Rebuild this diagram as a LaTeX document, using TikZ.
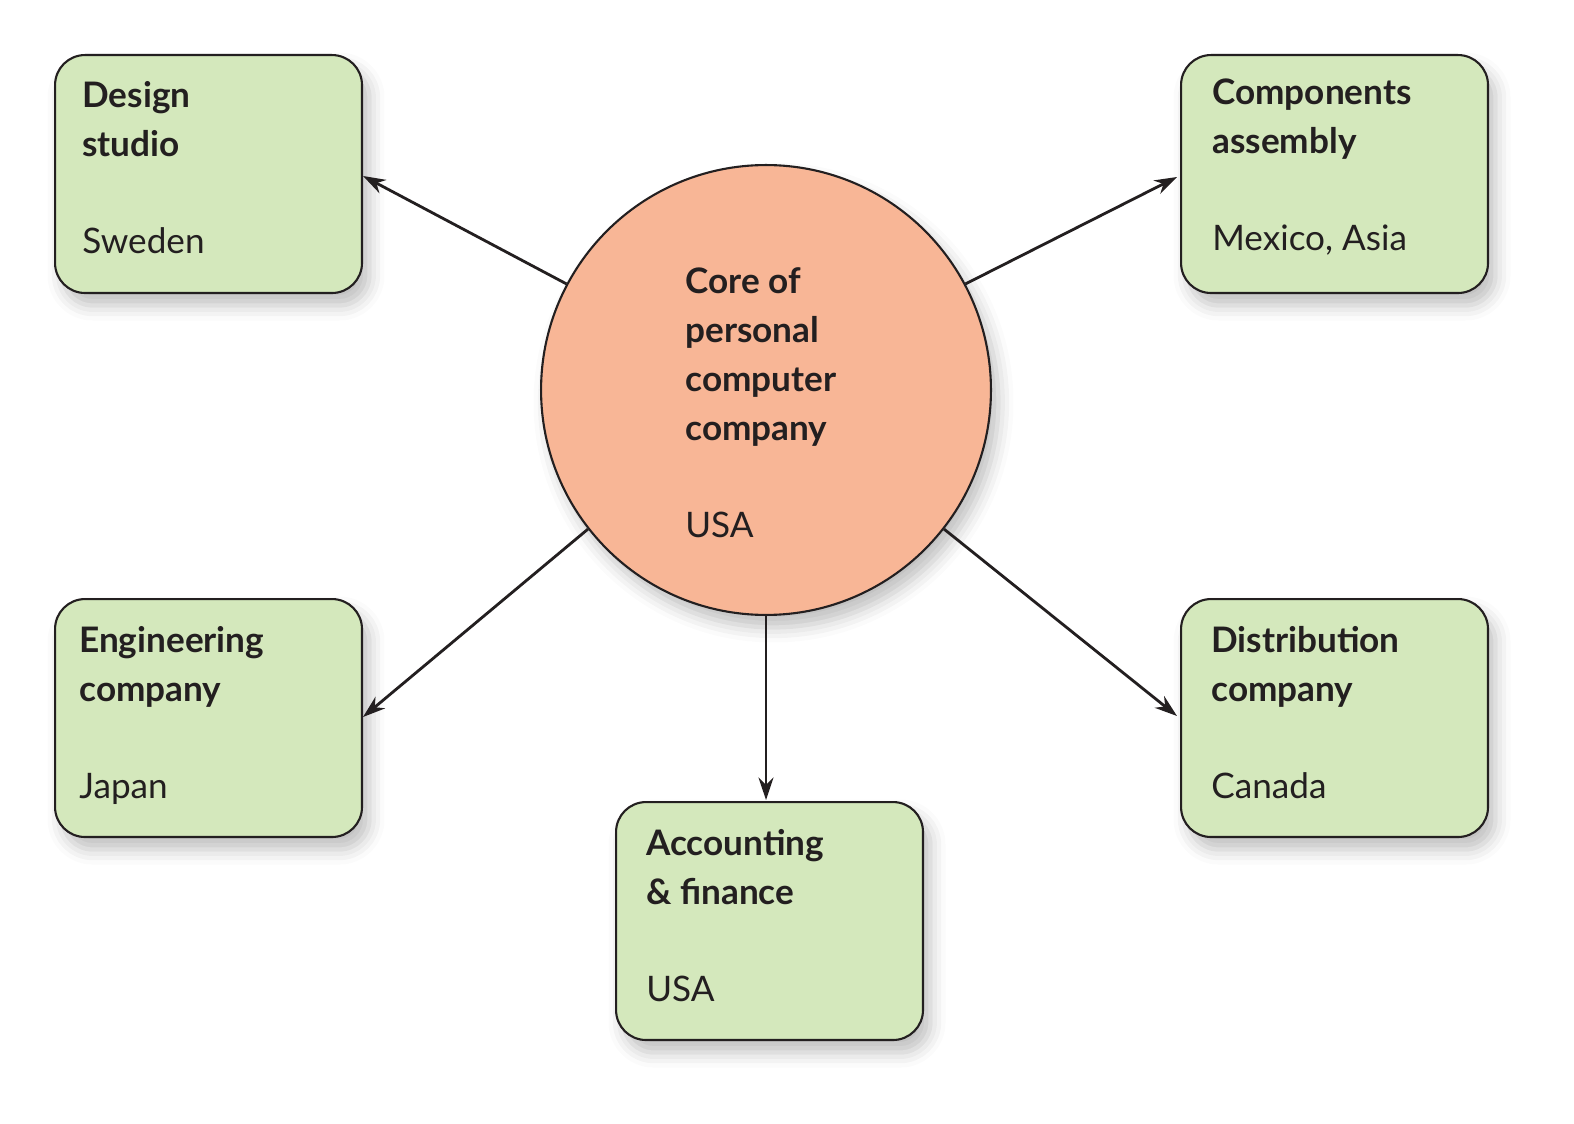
\documentclass[tikz,border=0pt]{standalone}
\usepackage{fontspec}
\setmainfont{Lato}
\usetikzlibrary{shadows.blur,arrows.meta}
\definecolor{boxgreen}{RGB}{212,232,188}
\definecolor{coresalmon}{RGB}{248,182,150}
\definecolor{ink}{RGB}{35,31,32}
\tikzset{
 unit/.style={draw=ink,line width=1.2pt,fill=boxgreen,rounded corners=0.6cm,minimum width=6.14cm,minimum height=4.76cm,anchor=north west,blur shadow={shadow xshift=0.15cm,shadow yshift=-0.25cm,shadow blur radius=0.3cm,shadow opacity=25}},
 title/.style={anchor=base west,inner sep=0,align=left,font=\fontsize{20}{27.9}\selectfont\bfseries,text=ink},
 place/.style={anchor=base west,inner sep=0,font=\fontsize{20}{24}\selectfont,text=ink},
 link/.style={draw=ink,line width=1.6pt,-{Stealth[length=0.45cm,width=0.3cm]}}
}
\begin{document}
\begin{tikzpicture}[x=0.02cm,y=-0.02cm]
\useasboundingbox (0,0) rectangle (1574,1124);
\node[unit] (ds) at (54,54) {};
\node[unit] (ca) at (1180,54) {};
\node[unit] (ec) at (54,598) {};
\node[unit] (dc) at (1180,598) {};
\node[unit] (af) at (615,801) {};
\node[draw=ink,line width=1.2pt,fill=coresalmon,circle,minimum size=9cm,blur shadow={shadow xshift=0.15cm,shadow yshift=-0.25cm,shadow blur radius=0.3cm,shadow opacity=25}] (core) at (766,390) {};
\node[title] (t1) at (82,108) {Design};
\node[title] (t1b) at (82,157) {studio};
\node[place] (p1) at (82,254) {Sweden};
\node[title] (t2) at (1212,105) {Components};
\node[title] (t2b) at (1212,154) {assembly};
\node[place] (p2) at (1212,251) {Mexico, Asia};
\node[title] (t3) at (79,652) {Engineering};
\node[title] (t3b) at (79,701) {company};
\node[place] (p3) at (79,798) {Japan};
\node[title] (t4) at (1211,652) {Distribution};
\node[title] (t4b) at (1211,701) {company};
\node[place] (p4) at (1211,798) {Canada};
\node[title] (t5) at (646,855) {Accounting};
\node[title] (t5b) at (646,904) {\& finance};
\node[place] (p5) at (646,1001) {USA};
\node[title] (c1) at (685,294) {Core of};
\node[title] (c2) at (685,343) {personal};
\node[title] (c3) at (685,392) {computer};
\node[title] (c4) at (685,441) {company};
\node[place] (c5) at (685,538) {USA};
\coordinate (e1) at (363,176);
\coordinate (e2) at (1177,177);
\coordinate (e3) at (363,717);
\coordinate (e4) at (1177,716);
\coordinate (e5) at (766,800);
\draw[link] (core.152) -- (e1);
\draw[link] (core.28) -- (e2);
\draw[link] (core.218) -- (e3);
\draw[link] (core.322) -- (e4);
\draw[link] (core.south) -- (e5);
\end{tikzpicture}
\end{document}
